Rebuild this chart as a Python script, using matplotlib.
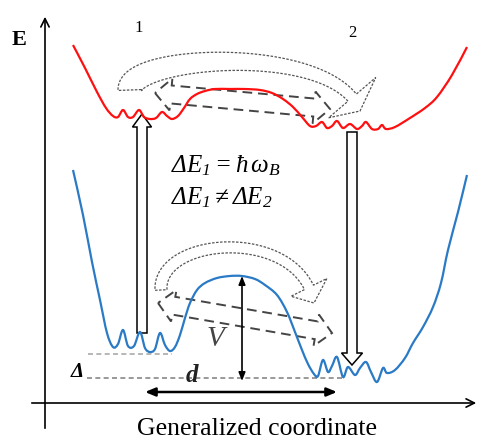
import numpy as np
import matplotlib
matplotlib.use("Agg")
from matplotlib import pyplot as plt
from matplotlib.path import Path
from matplotlib.patches import PathPatch, Polygon

# italic serif for the formulas, greek capitals included
plt.rcParams['mathtext.fontset'] = 'custom'
plt.rcParams['mathtext.rm'] = 'Liberation Serif:italic'
plt.rcParams['mathtext.it'] = 'Liberation Serif:italic'
plt.rcParams['mathtext.fallback'] = 'stix'
SERIF = 'Liberation Serif'

# potential curves (pixel coords, y down)
red_x = [73, 85, 97, 106, 113, 118, 123, 128, 133, 139, 144, 150, 156, 162, 167, 172,
         178, 184, 190, 197, 205, 215, 230, 245, 260, 272, 283, 293, 302, 310, 316, 322,
         327, 332, 337, 343, 350, 357, 362, 366, 372, 378, 382, 386, 395, 410, 425, 437,
         452, 467]
red_y = [45, 68, 92, 108, 116, 117, 110, 117, 117, 110, 117, 119, 118, 112, 116, 119,
         116, 108, 99, 94, 91, 89, 89, 89, 90, 93, 99, 107, 117, 126, 126, 122,
         128, 126, 121, 128, 124, 129, 126, 122, 129, 129, 125, 129, 127, 118, 108, 97,
         75, 47]

blue_x = [73, 83, 92, 100, 107, 113, 118, 123, 128, 134, 140, 145, 150, 155, 160, 165,
          170, 175, 180, 185, 190, 197, 205, 217, 230, 242, 255, 265, 277, 287, 295, 302,
          308, 314, 318, 323, 328, 332, 337, 343, 348, 355, 360, 366, 371, 377, 383, 387,
          395, 405, 413, 423, 433, 441, 448, 458, 467]
blue_y = [170, 215, 262, 300, 333, 347, 344, 330, 346, 346, 332, 348, 352, 349, 333, 345,
          351, 347, 335, 318, 303, 290, 283, 278, 276, 276, 279, 285, 295, 312, 332, 350,
          364, 374, 376, 360, 372, 366, 357, 377, 367, 375, 368, 362, 372, 382, 368, 373,
          370, 358, 343, 327, 307, 283, 250, 212, 175]

formula1 = r'$\Delta E_1=\hbar\,\omega_B$'
formula2 = r'$\Delta E_1\neq\Delta E_2$'
xlabel = 'Generalized coordinate'


def smooth_path(xs, ys):
    # catmull-rom through the read points, drawn as bezier segments
    p = np.column_stack([xs, ys]).astype(float)
    p = np.vstack([p[0], p, p[-1]])
    verts = [p[1]]
    codes = [Path.MOVETO]
    for i in range(1, len(p) - 2):
        c1 = p[i] + (p[i + 1] - p[i - 1]) / 6
        c2 = p[i + 1] - (p[i + 2] - p[i]) / 6
        verts += [c1, c2, p[i + 1]]
        codes += [Path.CURVE4] * 3
    return Path(verts, codes)


def double_arrow(a, b, w, h, L):
    a = np.array(a, float)
    b = np.array(b, float)
    u = (b - a) / np.hypot(*(b - a))
    n = np.array([-u[1], u[0]])
    pts = [a, a + L*u + h*n, a + L*u + w*n, b - L*u + w*n, b - L*u + h*n, b,
           b - L*u - h*n, b - L*u - w*n, a + L*u - w*n, a + L*u - h*n]
    return np.array(pts)


def curved_arrow(p0, c1, c2, p3, w0, w1, hw, hl):
    t = np.linspace(0, 1, 300)[:, None]
    p0, c1, c2, p3 = [np.array(v, float) for v in (p0, c1, c2, p3)]
    pts = (1-t)**3*p0 + 3*(1-t)**2*t*c1 + 3*(1-t)*t**2*c2 + t**3*p3
    s = np.concatenate([[0], np.cumsum(np.hypot(*np.diff(pts, axis=0).T))])
    keep = s <= s[-1] - hl
    body = pts[keep]
    tg = np.gradient(body, axis=0)
    tg /= np.hypot(tg[:, 0], tg[:, 1])[:, None]
    nrm = np.column_stack([-tg[:, 1], tg[:, 0]])
    w = (w0 + (w1 - w0) * s[keep] / s[keep][-1])[:, None] / 2
    left = body + nrm*w
    right = body - nrm*w
    base = body[-1]
    return np.vstack([left, base + nrm[-1]*hw, p3, base - nrm[-1]*hw, right[::-1]])


fig = plt.figure(figsize=(4.79, 4.41), dpi=100)
ax = fig.add_axes([0, 0, 1, 1])
ax.set_xlim(0, 479)
ax.set_ylim(441, 0)
ax.axis('off')

# axes arrows
ax.annotate('', xy=(45, 14), xytext=(45, 431),
            arrowprops=dict(arrowstyle='->,head_length=0.6,head_width=0.3', lw=1.2, color='black'))
ax.annotate('', xy=(479, 403), xytext=(29, 403),
            arrowprops=dict(arrowstyle='->,head_length=0.6,head_width=0.3', lw=1.2, color='black'))

# curved tunnelling / hopping arrows (dotted outline)
for shape in [curved_arrow((130, 90), (128, 55), (335, 42), (360, 111), 24, 11, 31, 15),
              curved_arrow((161, 290), (158, 236), (300, 226), (314, 303), 12, 10, 20, 16)]:
    ax.add_patch(Polygon(shape, closed=True, fc='white', ec='#555555',
                         lw=0.9, ls=(0, (2, 1.2)), zorder=1))

# dashed double arrows
for shape in [double_arrow((155, 93), (330, 109), 9, 16, 16),
              double_arrow((158, 303), (332, 333), 9, 16, 16)]:
    ax.add_patch(Polygon(shape, closed=True, fill=False, ec='#444444',
                         lw=1.4, ls=(0, (5, 3)), zorder=2))

# open vertical arrows
ax.arrow(142, 333, 0, -219, width=10, head_width=19, head_length=13,
         length_includes_head=True, fc='white', ec='black', lw=1.1, zorder=2.5)
ax.arrow(352, 132, 0, 233, width=10, head_width=21, head_length=12,
         length_includes_head=True, fc='white', ec='black', lw=1.1, zorder=2.5)

# reference levels
ax.plot([88, 172], [354, 354], color='#aaaaaa', lw=1.2, ls=(0, (3, 2)), zorder=1)
ax.plot([87, 345], [378, 378], color='#888888', lw=1.2, ls=(0, (3, 2)), zorder=1)

# potentials
ax.add_patch(PathPatch(smooth_path(red_x, red_y), fill=False, ec='#ff1010', lw=1.6, zorder=3))
ax.add_patch(PathPatch(smooth_path(blue_x, blue_y), fill=False, ec='#2a7ac6', lw=1.6, zorder=3))

# V and d arrows
ax.annotate('', xy=(242, 276), xytext=(242, 381),
            arrowprops=dict(arrowstyle='<|-|>,head_length=0.5,head_width=0.2', lw=1.2,
                            color='black', shrinkA=0, shrinkB=0), zorder=4)
ax.annotate('', xy=(337, 392), xytext=(145, 392),
            arrowprops=dict(arrowstyle='<|-|>,head_length=0.6,head_width=0.25', lw=1.8,
                            color='black', shrinkA=0, shrinkB=0), zorder=4)

# labels
ax.text(19, 40, 'E', family=SERIF, weight='bold', fontsize=16, ha='center', va='center')
ax.text(139, 28, '1', family=SERIF, fontsize=12, ha='center', va='center')
ax.text(352, 33, '2', family=SERIF, fontsize=12, ha='center', va='center')
ax.text(171, 172, formula1, fontsize=18, ha='left', va='baseline')
ax.text(171, 204, formula2, fontsize=18, ha='left', va='baseline')
ax.text(215, 339, 'V', family=SERIF, style='italic', fontsize=21, color='#444444',
        ha='center', va='center')
ax.text(192, 375, 'd', family=SERIF, style='italic', weight='bold', fontsize=18,
        color='#222222', ha='center', va='center')
ax.text(77, 372, '\u0394', family=SERIF, style='italic', weight='bold', fontsize=15,
        ha='center', va='center')
ax.text(257, 440, xlabel, family=SERIF, fontsize=18.5, ha='center', va='bottom')

fig.savefig('out.png', dpi=100)
